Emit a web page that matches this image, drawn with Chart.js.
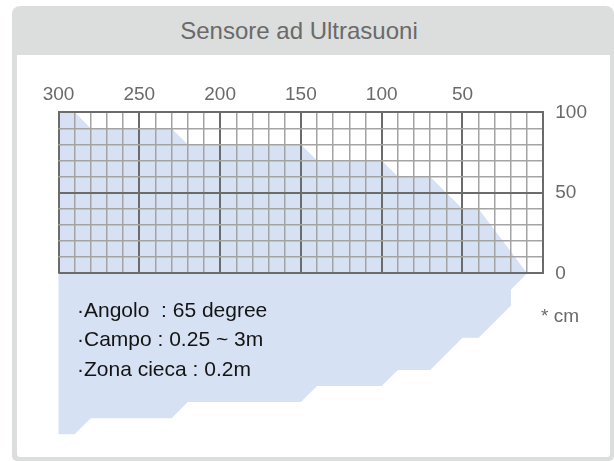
<!DOCTYPE html>
<html>
<head>
<meta charset="utf-8">
<script src="https://cdn.jsdelivr.net/npm/chart.js@4/dist/chart.umd.min.js"></script>
<style>
  html, body { margin: 0; padding: 0; background: #fff; }
  body { width: 614px; height: 461px; position: relative; overflow: hidden; font-family: "Liberation Sans", Arial, sans-serif; }
  .card { position: absolute; left: 12px; top: 6px; width: 602px; height: 455px; background: #dcdddd; border-radius: 8px 8px 5px 5px; }
  .card-body { position: absolute; left: 5px; top: 49px; width: 593px; height: 402px; background: #fff; border-radius: 0 0 3px 3px; }
  .title { position: absolute; left: 99px; top: 19px; width: 400px; text-align: center; font-size: 24px; line-height: 24px; color: #6a6a6a; white-space: nowrap; }
  #chart { position: absolute; left: 0; top: 0; }
  .notes { position: absolute; left: 77px; top: 295px; font-size: 21px; line-height: 29.4px; color: #141414; white-space: pre; }
  .unit { position: absolute; left: 541px; top: 306px; font-size: 19px; line-height: 19px; color: #6a6a6a; white-space: pre; }
</style>
</head>
<body>
<div class="card"><div class="card-body"></div></div>
<div class="title">Sensore ad Ultrasuoni</div>
<canvas id="chart" width="614" height="461"></canvas>
<div class="notes">·Angolo  : 65 degree
·Campo : 0.25 ~ 3m
·Zona cieca : 0.2m</div>
<div class="unit">* cm</div>
<script>
'use strict';

// beam outline, distance in cm (x) and lateral offset (y), walked round the shape
const BEAM_CM = [300, 290, 280, 230, 220, 150, 140, 100, 90, 70, 50, 40, 10, 20, 20, 40, 50, 70, 90, 100, 140, 150, 220, 230, 280, 290, 300];
const BEAM_Y = [100, 100, 90, 90, 80, 80, 70, 70, 60, 60, 40, 40, 0, -10, -20, -40, -40, -60, -60, -70, -70, -80, -80, -90, -90, -100, -100];

const X_TICK_LABELS = [300, 250, 200, 150, 100, 50];
const Y_TICK_LABELS = [0, 50, 100];

const BEAM_COLOR = '#d6e1f3';
const MAJOR_COLOR = '#6b6b6b';
const MINOR_COLOR = '#a3a3a3';
const TICK_COLOR = '#6a6a6a';
const FONT = { family: '"Liberation Sans", Arial, sans-serif', size: 19 };

// fills the beam polygon from the points Chart.js laid out (they run past the grid)
const beamFill = {
  id: 'beamFill',
  beforeDatasetsDraw(chart) {
    const pts = chart.getDatasetMeta(0).data;
    const ctx = chart.ctx;
    ctx.save();
    ctx.fillStyle = BEAM_COLOR;
    ctx.beginPath();
    pts.forEach((p, i) => (i ? ctx.lineTo(p.x, p.y) : ctx.moveTo(p.x, p.y)));
    ctx.closePath();
    ctx.fill();
    ctx.restore();
  }
};

const isMajor = v => v % 50 === 0;

// grid and border sit above the beam, as in the picture
const gridOpts = {
  z: 1,
  drawTicks: false,
  color: ctx => (isMajor(ctx.tick.value) ? MAJOR_COLOR : MINOR_COLOR),
  lineWidth: ctx => (isMajor(ctx.tick.value) ? 2 : 1.5)
};
const borderOpts = { display: true, color: MAJOR_COLOR, width: 2, z: 2 };

new Chart(document.getElementById('chart'), {
  type: 'line',
  data: {
    datasets: [{
      data: BEAM_CM.map((x, i) => ({ x, y: BEAM_Y[i] })),
      borderWidth: 0,
      pointRadius: 0,
      pointHoverRadius: 0,
      fill: false,
      clip: false
    }]
  },
  options: {
    responsive: false,
    devicePixelRatio: 1,
    animation: false,
    events: [],
    layout: { padding: { left: 58.5, top: 77.5, right: 15, bottom: 187.7 } },
    plugins: {
      legend: { display: false },
      tooltip: { enabled: false },
      title: { display: false }
    },
    scales: {
      x: {
        type: 'linear',
        position: 'top',
        reverse: true,
        min: 0,
        max: 300,
        grid: gridOpts,
        border: borderOpts,
        ticks: {
          stepSize: 10,
          autoSkip: false,
          maxRotation: 0,
          padding: 6,
          color: TICK_COLOR,
          font: FONT,
          callback: v => (X_TICK_LABELS.includes(v) ? String(v) : '')
        }
      },
      y: {
        type: 'linear',
        position: 'right',
        min: 0,
        max: 100,
        grid: gridOpts,
        border: borderOpts,
        ticks: {
          stepSize: 10,
          autoSkip: false,
          padding: 12,
          color: TICK_COLOR,
          font: FONT,
          callback: v => (Y_TICK_LABELS.includes(v) ? String(v) : '')
        }
      }
    }
  },
  plugins: [beamFill]
});
</script>
</body>
</html>
